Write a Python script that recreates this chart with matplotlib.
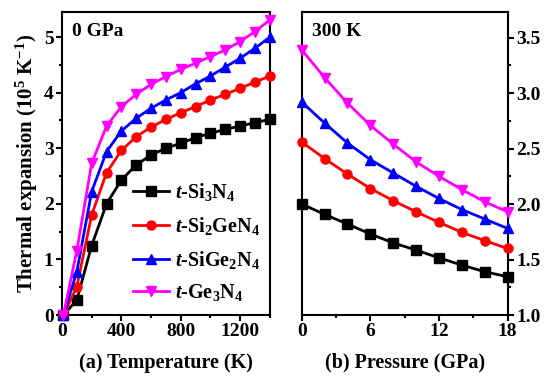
import matplotlib
matplotlib.use("Agg")
import matplotlib.pyplot as plt
from matplotlib.ticker import MultipleLocator

plt.rcParams['font.family'] = ['Liberation Serif', 'DejaVu Serif']
plt.rcParams['font.weight'] = 'bold'
plt.rcParams['mathtext.fontset'] = 'custom'
plt.rcParams['mathtext.rm'] = 'Liberation Serif:bold'
plt.rcParams['mathtext.it'] = 'Liberation Serif:bold:italic'
plt.rcParams['mathtext.bf'] = 'Liberation Serif:bold'

# (a) 0 GPa, thermal expansion vs temperature
temperature = [10, 100, 200, 300, 400, 500, 600, 700, 800, 900, 1000, 1100, 1200, 1300, 1400]
si3n4_t = [0, 0.27, 1.25, 2.0, 2.43, 2.70, 2.88, 3.0, 3.09, 3.19, 3.27, 3.34, 3.40, 3.46, 3.52]
si2gen4_t = [0, 0.51, 1.80, 2.56, 2.96, 3.21, 3.38, 3.52, 3.64, 3.75, 3.87, 3.97, 4.08, 4.19, 4.30]
sige2n4_t = [0, 0.78, 2.22, 2.94, 3.31, 3.54, 3.72, 3.87, 4.0, 4.16, 4.30, 4.46, 4.62, 4.80, 5.0]
ge3n4_t = [0, 1.16, 2.73, 3.40, 3.75, 3.97, 4.15, 4.29, 4.42, 4.53, 4.65, 4.77, 4.92, 5.10, 5.31]

# (b) 300 K, thermal expansion vs pressure
pressure = [0, 2, 4, 6, 8, 10, 12, 14, 16, 18]
si3n4_p = [2.0, 1.907, 1.82, 1.73, 1.65, 1.585, 1.515, 1.45, 1.39, 1.345]
si2gen4_p = [2.56, 2.41, 2.27, 2.14, 2.03, 1.93, 1.835, 1.745, 1.67, 1.60]
sige2n4_p = [2.92, 2.73, 2.55, 2.40, 2.28, 2.16, 2.05, 1.95, 1.865, 1.78]
ge3n4_p = [3.39, 3.14, 2.91, 2.71, 2.54, 2.38, 2.25, 2.13, 2.02, 1.93]

labels = [r'$t$-Si$_3$N$_4$', r'$t$-Si$_2$GeN$_4$', r'$t$-SiGe$_2$N$_4$', r'$t$-Ge$_3$N$_4$']
colors = ['black', 'red', 'blue', 'magenta']
markers = ['s', 'o', '^', 'v']

fig = plt.figure(figsize=(5.5, 3.83), dpi=100)
ax1 = fig.add_axes([0.1127, 0.1775, 0.378, 0.791])
ax2 = fig.add_axes([0.5485, 0.1775, 0.3745, 0.791])

for ys, c, m, lab in zip([si3n4_t, si2gen4_t, sige2n4_t, ge3n4_t], colors, markers, labels):
    ax1.plot(temperature, ys, color=c, marker=m, markersize=6.5, linewidth=2, label=lab,
             clip_on=False, zorder=3)

for ys, c, m in zip([si3n4_p, si2gen4_p, sige2n4_p, ge3n4_p], colors, markers):
    ax2.plot(pressure, ys, color=c, marker=m, markersize=6.5, linewidth=2,
             clip_on=False, zorder=3)

ax1.set_xlim(0, 1400)
ax1.set_ylim(0, 5.45)
ax1.xaxis.set_major_locator(MultipleLocator(400))
ax1.xaxis.set_minor_locator(MultipleLocator(200))
ax1.yaxis.set_major_locator(MultipleLocator(1))
ax1.yaxis.set_minor_locator(MultipleLocator(0.5))
ax1.set_xlabel('(a) Temperature (K)', fontsize=14.5, fontweight='bold', labelpad=9)
ax1.set_ylabel(r'Thermal expansion (10$^5$ K$^{-1}$)', fontsize=15, fontweight='bold', labelpad=3)
ax1.text(0.05, 0.965, '0 GPa', transform=ax1.transAxes, fontsize=14, fontweight='bold',
         va='top', ha='left')
ax1.legend(loc='lower right', bbox_to_anchor=(1.03, -0.015), frameon=False, fontsize=14.5,
           handlelength=1.8, handletextpad=0.3, labelspacing=0.58, borderpad=0.3)

ax2.set_xlim(0, 18)
ax2.set_ylim(1.0, 3.73)
ax2.xaxis.set_major_locator(MultipleLocator(6))
ax2.xaxis.set_minor_locator(MultipleLocator(3))
ax2.yaxis.set_major_locator(MultipleLocator(0.5))
ax2.yaxis.set_minor_locator(MultipleLocator(0.25))
ax2.yaxis.tick_right()
ax2.yaxis.set_label_position('right')
ax2.set_xlabel('(b) Pressure (GPa)', fontsize=14.5, fontweight='bold', labelpad=9)
ax2.text(0.05, 0.965, '300 K', transform=ax2.transAxes, fontsize=14, fontweight='bold',
         va='top', ha='left')

for ax in (ax1, ax2):
    for s in ax.spines.values():
        s.set_linewidth(1.5)
    ax.tick_params(which='major', direction='out', length=4, width=1.5, labelsize=14, pad=2)
    ax.tick_params(which='minor', direction='out', length=2.5, width=1.5)
    for lab in ax.get_xticklabels() + ax.get_yticklabels():
        lab.set_fontweight('bold')

ax2.yaxis.set_major_formatter(plt.FuncFormatter(lambda v, p: f'{v:.1f}'))

fig.savefig('out.png', dpi=100)
